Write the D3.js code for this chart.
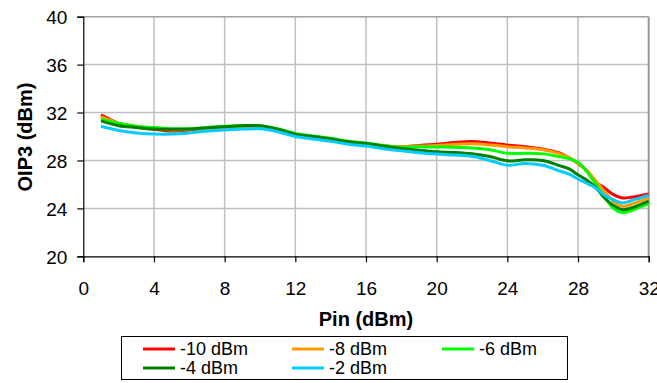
<!DOCTYPE html>
<html>
<head>
<meta charset="utf-8">
<script src="https://cdn.jsdelivr.net/npm/d3@7"></script>
<style>
  html, body { margin: 0; padding: 0; background: #fff; }
  svg { display: block; font-family: "Liberation Sans", Arial, sans-serif; }
</style>
</head>
<body>
<svg id="chart" width="657" height="383"></svg>
<script>
// ---- Data ----
const pin = [1,2,3,4,5,6,7,8,9,10,11,12,13,14,15,16,17,18,19,20,21,22,23,24,25,26,27,27.5,28,28.5,29,29.5,30,30.5,31,31.5,32];
const seriesNames = ["-10 dBm", "-8 dBm", "-6 dBm", "-4 dBm", "-2 dBm"];
const seriesColors = ["#ff0000", "#ff9900", "#00ff00", "#008000", "#00ccff"];
const oipM10 = [31.8,31.1,30.8,30.6,30.45,30.55,30.7,30.8,30.85,30.85,30.6,30.2,30.0,29.8,29.55,29.4,29.2,29.15,29.25,29.35,29.5,29.58,29.45,29.28,29.15,28.95,28.6,28.2,27.75,27.15,26.2,25.7,25.15,24.87,24.92,25.05,25.2];
const oipM8  = [31.65,31.1,30.85,30.7,30.55,30.6,30.7,30.8,30.85,30.85,30.55,30.15,29.95,29.75,29.5,29.35,29.2,29.15,29.2,29.25,29.35,29.4,29.3,29.15,29.05,28.9,28.55,28.25,27.75,27.15,26.3,25.4,24.6,24.17,24.35,24.6,24.87];
const oipM6  = [31.45,31.1,30.85,30.75,30.65,30.65,30.75,30.85,30.9,30.9,30.65,30.25,30.05,29.85,29.6,29.45,29.25,29.1,29.15,29.12,29.1,29.03,28.9,28.6,28.6,28.55,28.3,28.15,27.85,27.05,26.05,25.0,24.0,23.65,23.8,24.1,24.37];
const oipM4  = [31.3,30.9,30.75,30.62,30.6,30.62,30.72,30.82,30.9,30.9,30.6,30.2,30.0,29.8,29.56,29.42,29.2,29.0,28.86,28.72,28.67,28.56,28.33,27.97,28.05,28.0,27.55,27.3,26.8,26.35,25.75,24.87,24.25,23.9,24.03,24.3,24.6];
const oipM2  = [30.85,30.5,30.3,30.2,30.2,30.3,30.45,30.55,30.62,30.64,30.4,30.0,29.8,29.6,29.35,29.2,28.98,28.8,28.64,28.53,28.45,28.35,28.0,27.6,27.75,27.6,27.1,26.85,26.45,26.1,25.7,25.1,24.7,24.45,24.64,24.87,25.1];
const xTicks = [0,4,8,12,16,20,24,28,32];
const yTicks = [20,24,28,32,36,40];
const xTitle = "Pin (dBm)";
const yTitle = "OIP3 (dBm)";

const allSeries = [oipM10, oipM8, oipM6, oipM4, oipM2];

// ---- Layout ----
const svg = d3.select("#chart");
const L = 83.3, R = 648.7, T = 16.7, B = 256.3;
const x = d3.scaleLinear().domain([0, 32]).range([L, R]);
const y = d3.scaleLinear().domain([20, 40]).range([B, T]);

// gridlines
svg.append("g")
  .selectAll("line.v")
  .data(xTicks.filter(d => d > 0 && d < 32))
  .join("line")
  .attr("x1", d => x(d)).attr("x2", d => x(d))
  .attr("y1", T).attr("y2", B)
  .attr("stroke", "#c0c0c0").attr("stroke-width", 1.5);
svg.append("g")
  .selectAll("line.h")
  .data(yTicks.filter(d => d > 20 && d < 40))
  .join("line")
  .attr("x1", L).attr("x2", R)
  .attr("y1", d => y(d)).attr("y2", d => y(d))
  .attr("stroke", "#c0c0c0").attr("stroke-width", 1.5);

// top and right frame
svg.append("line").attr("x1", L).attr("x2", R).attr("y1", T).attr("y2", T)
  .attr("stroke", "#a0a0a0").attr("stroke-width", 1.5);
svg.append("line").attr("x1", R).attr("x2", R).attr("y1", T).attr("y2", B)
  .attr("stroke", "#999999").attr("stroke-width", 2);

// axes
const yAxis = d3.axisLeft(y).tickValues(yTicks).tickSize(6).tickPadding(10).tickFormat(d3.format("d"));
const xAxis = d3.axisBottom(x).tickValues(xTicks).tickSize(6).tickPadding(19).tickFormat(d3.format("d"));

const gy = svg.append("g").attr("transform", `translate(${L},0)`).call(yAxis);
const gx = svg.append("g").attr("transform", `translate(0,${B})`).call(xAxis);
[gx, gy].forEach(g => {
  g.select(".domain").attr("stroke", "#000").attr("stroke-width", 1.2);
  g.selectAll(".tick line").attr("stroke", "#000").attr("stroke-width", 1.2);
  g.selectAll(".tick text").attr("font-size", 19).attr("fill", "#000")
    .attr("font-family", "Liberation Sans, Arial, sans-serif");
});
gy.selectAll(".tick text").attr("dy", "0.36em");

// lines
const line = d3.line()
  .x((d, i) => x(pin[i]))
  .y(d => y(d))
  .curve(d3.curveCatmullRom.alpha(0.5));

svg.append("g")
  .selectAll("path")
  .data(allSeries)
  .join("path")
  .attr("d", d => line(d))
  .attr("fill", "none")
  .attr("stroke", (d, i) => seriesColors[i])
  .attr("stroke-width", 3)
  .attr("stroke-linejoin", "round");

// axis titles
svg.append("text")
  .attr("x", 366).attr("y", 326)
  .attr("text-anchor", "middle")
  .attr("font-size", 20).attr("font-weight", "bold")
  .text(xTitle);
svg.append("text")
  .attr("transform", "translate(32,137) rotate(-90)")
  .attr("text-anchor", "middle")
  .attr("font-size", 20).attr("font-weight", "bold")
  .text(yTitle);

// legend
const lg = svg.append("g");
lg.append("rect").attr("x", 121.5).attr("y", 336.5).attr("width", 446).attr("height", 43)
  .attr("fill", "#fff").attr("stroke", "#000").attr("stroke-width", 1);
const colX = [143, 292, 442];
const rowY = [349, 368];
seriesNames.forEach((name, i) => {
  const cx = colX[i % 3], cy = rowY[Math.floor(i / 3)];
  lg.append("line").attr("x1", cx).attr("x2", cx + 32).attr("y1", cy).attr("y2", cy)
    .attr("stroke", seriesColors[i]).attr("stroke-width", 3);
  lg.append("text").attr("x", cx + 37).attr("y", cy).attr("dy", "0.36em")
    .attr("font-size", 18).text(name);
});
</script>
</body>
</html>
